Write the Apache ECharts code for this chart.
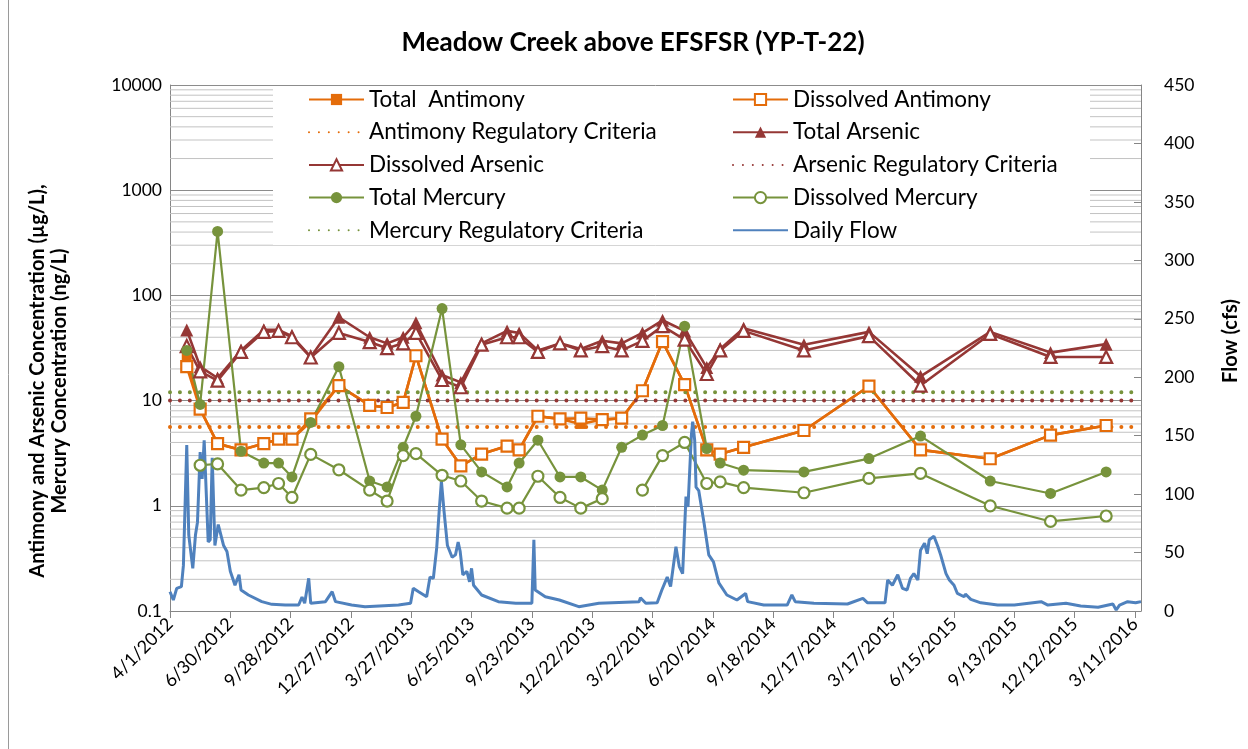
<!DOCTYPE html>
<html>
<head>
<meta charset="UTF-8">
<title>Meadow Creek above EFSFSR (YP-T-22)</title>
<script src="https://cdn.jsdelivr.net/npm/echarts@6/dist/echarts.min.js"></script>
<style>
    html, body { margin: 0; padding: 0; background: #fff; }
    #main { width: 1248px; height: 749px; }
</style>
</head>
<body>
<div id="main"></div>
<script>
// sampling dates
var sampleDates = ['2012-04-26', '2012-05-16', '2012-06-11', '2012-07-16', '2012-08-19', '2012-09-10', '2012-09-30',
    '2012-10-28', '2012-12-09', '2013-01-24', '2013-02-19', '2013-03-15', '2013-04-03', '2013-05-12', '2013-06-09',
    '2013-07-10', '2013-08-17', '2013-09-04', '2013-10-02', '2013-11-04', '2013-12-05', '2014-01-06', '2014-02-04',
    '2014-03-07', '2014-04-06', '2014-05-09', '2014-06-11', '2014-07-01', '2014-08-05', '2014-11-03', '2015-02-08',
    '2015-04-26', '2015-08-08', '2015-11-06', '2016-01-28'];

// antimony, ug/L
var totalSb = [26, 8.3, 3.9, 3.4, 3.9, 4.3, 4.3, 6.3, 13.9, 9.0, 8.6, 9.6, 26.7, 4.3, 2.4, 3.1, 3.7, 3.4, 7.1, 6.7, 6.0,
    6.6, 6.8, 12.4, 36.4, 14.2, 3.4, 3.1, 3.6, 5.2, 13.7, 3.4, 2.8, 4.7, 5.8];
var dissolvedSb = [21, 8.3, 3.9, 3.4, 3.9, 4.3, 4.3, 6.7, 13.9, 9.0, 8.6, 9.6, 26.7, 4.3, 2.4, 3.1, 3.7, 3.4, 7.1, 6.7, 6.8,
    6.6, 6.8, 12.4, 36.4, 14.2, 3.4, 3.1, 3.6, 5.2, 13.7, 3.4, 2.8, 4.7, 5.8];
// arsenic, ug/L
var totalAs = [47, 21, 16.4, 30, 47, 47, 41, 26, 62, 40, 35, 40, 55, 17.5, 14.9, 35, 46, 44, 30, 35, 31, 37, 35, 44, 58,
    46, 20.6, 31, 48.7, 34, 45, 17, 45, 28.6, 34.4];
var dissolvedAs = [33, 19, 15.5, 29, 45, 46, 40, 25.7, 44, 36, 31.5, 35, 44, 15.7, 13.4, 34, 40, 40, 29, 35, 30, 33, 30, 37,
    51, 38, 17.9, 30, 46, 30, 41, 13.9, 43, 26, 26];
// mercury, ng/L
var totalHg = [30, 9.2, 406, 3.3, 2.55, 2.55, 1.88, 6.2, 21, 1.72, 1.51, 3.6, 7.1, 75, 3.8, 2.1, 1.51, 2.55, 4.2, 1.88,
    1.88, 1.41, 3.6, 4.7, 5.8, 51, 3.5, 2.55, 2.18, 2.1, 2.81, 4.6, 1.72, 1.31, 2.1];
var dissolvedHg = [null, 2.43, 2.5, 1.41, 1.49, 1.63, 1.2, 3.08, 2.2, 1.41, 1.11, 3.0, 3.13, 1.95, 1.72, 1.11, 0.95, 0.95,
    1.91, 1.2, 0.95, 1.17, null, 1.41, 3.0, 4.0, 1.63, 1.69, 1.49, 1.33, 1.82, 2.03, 1.0, 0.71, 0.80];

// regulatory criteria
var sbCriteria = 5.6;
var asCriteria = 10;
var hgCriteria = 12;

// daily flow (cfs), days counted from 4/1/2012
var flowDay = [0, 5, 10, 17, 20, 25, 28, 34, 38, 41, 45, 48, 51, 57, 60, 63, 67, 72, 76, 80, 85, 90, 97, 103, 106, 117,
    137, 152, 172, 192, 197, 201, 207, 210, 232, 242, 247, 271, 291, 341, 359, 363, 371, 383, 388, 393, 398, 402, 405,
    409, 414, 421, 426, 430, 433, 437, 443, 447, 450, 453, 465, 490, 516, 540, 543, 545, 560, 581, 610, 640, 700, 702,
    710, 727, 734, 742, 747, 755, 760, 765, 770, 773, 778, 780, 783, 785, 789, 797, 804, 811, 819, 831, 846, 859, 862,
    886, 921, 928, 933, 961, 1011, 1034, 1041, 1067, 1071, 1078, 1086, 1093, 1100, 1105, 1110, 1116, 1120, 1126, 1130,
    1133, 1140, 1146, 1150, 1158, 1163, 1170, 1175, 1185, 1187, 1195, 1210, 1235, 1260, 1300, 1310, 1337, 1359, 1385,
    1407, 1412, 1417, 1429, 1441, 1449];
var flowCfs = [16.5, 9.4, 19.4, 20.8, 39, 142, 65, 36.5, 65, 76, 136, 113, 146, 59, 61, 131, 56, 74, 65, 56, 51, 34, 22,
    31, 18, 13.7, 8, 5.7, 5.1, 5.1, 12, 6.6, 28, 6.6, 8, 16.5, 8, 5.1, 3.7, 5.1, 6.6, 19.4, 16.5, 12.2, 29, 28, 54, 88, 111,
    85, 56, 46, 48, 59, 51, 31, 34, 25, 36.5, 22, 13.7, 8, 6.6, 6.6, 61, 18, 12.2, 9.4, 3.7, 6.6, 8, 11.4, 6.6, 7, 18, 29,
    21, 55, 38, 32, 98, 89, 150, 162, 146, 106, 103, 75, 48, 42, 24, 13.7, 9.4, 15, 8, 5.1, 5.1, 13.7, 8, 6.6, 6, 10.8, 7,
    7, 26.5, 22, 31, 19.4, 18, 28, 32, 26.5, 52, 58, 49, 61, 64, 55, 48, 32, 26.5, 22, 15, 12.2, 14.5, 10, 7, 5.1, 5.1, 8,
    5.1, 6.6, 4.3, 3.2, 6, 0.9, 5.1, 8, 7, 8];

var START = Date.UTC(2012, 3, 1);
var DAY = 86400000;
var LAST_DAY = 1449;

var ORANGE = '#E46C0A';
var RED = '#953735';
var GREEN = '#77933C';
var BLUE = '#4F81BD';
var FONT = 'Lato';

function toDay(s) {
    var p = s.split('-');
    return Math.round((Date.UTC(+p[0], +p[1] - 1, +p[2]) - START) / DAY);
}
function dayLabel(d) {
    var t = new Date(START + d * DAY);
    return (t.getUTCMonth() + 1) + '/' + t.getUTCDate() + '/' + t.getUTCFullYear();
}
function pairs(vals) {
    return sampleDates.map(function (s, i) {
        return [toDay(s), vals[i] == null ? '-' : vals[i]];
    });
}
function flat(v) {
    return [[0, v], [LAST_DAY, v]];
}

// minor log gridlines at 2..9 of every decade, one broken line
var minorGrid = [];
[0.1, 1, 10, 100, 1000].forEach(function (dec) {
    for (var k = 2; k <= 9; k++) {
        var v = +(dec * k).toPrecision(3);
        minorGrid.push([0, v], [LAST_DAY, v], [LAST_DAY, '-']);
    }
});

function markSeries(name, data, color, symbol, size, hollow, width) {
    return {
        name: name,
        type: 'line',
        data: data,
        symbol: symbol,
        symbolSize: size,
        showAllSymbol: true,
        connectNulls: false,
        lineStyle: {color: color, width: width},
        itemStyle: hollow ? {color: '#fff', borderColor: color, borderWidth: 2.2} : {color: color, borderColor: color, borderWidth: 0},
        emphasis: {disabled: true}
    };
}
function criteriaSeries(name, value, color) {
    return {
        name: name,
        type: 'line',
        data: flat(value),
        symbol: 'none',
        lineStyle: {color: color, width: 4, type: [0.01, 9.9], cap: 'round'},
        itemStyle: {color: color},
        emphasis: {disabled: true}
    };
}
function noMark(name) {
    return {name: name, itemStyle: {opacity: 0}};
}

var myChart = echarts.init(document.getElementById('main'));

var legendText = {fontFamily: FONT, fontSize: 22.5, color: '#000', lineHeight: 22};

var option = {
    animation: false,
    backgroundColor: '#fff',
    title: {
        text: 'Meadow Creek above EFSFSR (YP-T-22)',
        left: 628,
        textAlign: 'center',
        top: 25,
        textStyle: {fontFamily: FONT, fontSize: 26, fontWeight: 'bold', color: '#000'}
    },
    grid: {left: 170, right: 107, top: 85, bottom: 138},
    legend: [{
        left: 303, top: 83, orient: 'vertical', itemWidth: 55, itemHeight: 14, itemGap: 9.7,
        textStyle: legendText,
        data: ['Total  Antimony', noMark('Antimony Regulatory Criteria'), 'Dissolved Arsenic', 'Total Mercury',
            noMark('Mercury Regulatory Criteria')]
    }, {
        left: 727, top: 83, orient: 'vertical', itemWidth: 55, itemHeight: 14, itemGap: 9.7,
        textStyle: legendText,
        data: ['Dissolved Antimony', 'Total Arsenic', noMark('Arsenic Regulatory Criteria'), 'Dissolved Mercury',
            noMark('Daily Flow')]
    }],
    graphic: [
        {type: 'rect', z: 1, silent: true, shape: {x: 273, y: 87, width: 817, height: 158}, style: {fill: '#fff'}},
        {type: 'line', silent: true, shape: {x1: 8.5, y1: 0, x2: 8.5, y2: 749}, style: {stroke: '#9a9a9a', lineWidth: 1}},
        {
            type: 'text', silent: true, x: 49, y: 381, rotation: Math.PI / 2,
            style: {
                text: 'Antimony and Arsenic Concentration (µg/L),\nMercury Concentration (ng/L)',
                font: 'bold 20px ' + FONT, fill: '#000', align: 'center', verticalAlign: 'middle', lineHeight: 22
            }
        },
        {
            type: 'text', silent: true, x: 1231, y: 341, rotation: Math.PI / 2,
            style: {text: 'Flow (cfs)', font: 'bold 20px ' + FONT, fill: '#000', align: 'center', verticalAlign: 'middle'}
        }
    ],
    xAxis: {
        type: 'value',
        min: 0,
        max: LAST_DAY,
        interval: 90,
        axisLine: {lineStyle: {color: '#868686'}},
        axisTick: {show: true, length: 7, lineStyle: {color: '#868686'}},
        splitLine: {show: false},
        axisLabel: {
            rotate: 45, fontFamily: FONT, fontSize: 18, color: '#000', margin: 10,
            showMaxLabel: false, formatter: dayLabel
        }
    },
    yAxis: [{
        type: 'log',
        logBase: 10,
        min: 0.1,
        max: 10000,
        axisLine: {show: true, lineStyle: {color: '#868686'}},
        axisTick: {show: false},
        axisLabel: {
            fontFamily: FONT, fontSize: 17.5, color: '#000', margin: 8,
            formatter: function (v) { return v < 1 ? '0.1' : String(Math.round(v)); }
        },
        splitLine: {lineStyle: {color: '#8c8c8c', width: 1}}
    }, {
        type: 'value',
        min: 0,
        max: 450,
        interval: 50,
        position: 'right',
        axisLine: {show: true, lineStyle: {color: '#868686'}},
        axisTick: {show: true, inside: true, length: 7, lineStyle: {color: '#868686'}},
        axisLabel: {fontFamily: FONT, fontSize: 17.5, color: '#000', margin: 23},
        splitLine: {show: false}
    }],
    series: [
        {
            name: 'minor', type: 'line', data: minorGrid, z: 0.5, silent: true, symbol: 'none',
            connectNulls: false,
            lineStyle: {color: '#c3c3c3', width: 1},
            emphasis: {disabled: true}
        },
        markSeries('Total  Antimony', pairs(totalSb), ORANGE, 'rect', 10, false, 2.6),
        markSeries('Dissolved Antimony', pairs(dissolvedSb), ORANGE, 'rect', 11, true, 2.6),
        criteriaSeries('Antimony Regulatory Criteria', sbCriteria, ORANGE),
        markSeries('Total Arsenic', pairs(totalAs), RED, 'triangle', 13, false, 2.6),
        markSeries('Dissolved Arsenic', pairs(dissolvedAs), RED, 'triangle', 12, true, 2.6),
        criteriaSeries('Arsenic Regulatory Criteria', asCriteria, RED),
        markSeries('Total Mercury', pairs(totalHg), GREEN, 'circle', 11, false, 2.2),
        markSeries('Dissolved Mercury', pairs(dissolvedHg), GREEN, 'circle', 11, true, 2.2),
        criteriaSeries('Mercury Regulatory Criteria', hgCriteria, GREEN),
        {
            name: 'Daily Flow',
            type: 'line',
            yAxisIndex: 1,
            data: flowDay.map(function (d, i) { return [d, flowCfs[i]]; }),
            symbol: 'none',
            lineStyle: {color: BLUE, width: 3},
            itemStyle: {color: BLUE},
            emphasis: {disabled: true}
        }
    ]
};

myChart.setOption(option);
</script>
</body>
</html>
